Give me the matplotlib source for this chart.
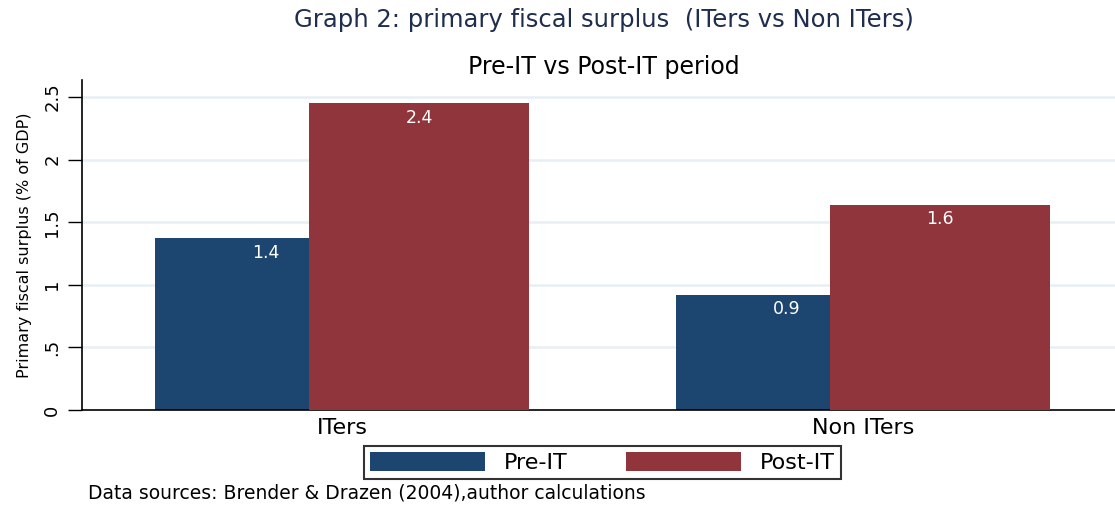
import matplotlib
matplotlib.use("Agg")
import matplotlib.pyplot as plt
import numpy as np

# Data
groups = ["ITers", "Non ITers"]
series_names = ["Pre-IT", "Post-IT"]
pre_it = [1.37, 0.92]
post_it = [2.45, 1.64]
pre_labels = ["1.4", "0.9"]
post_labels = ["2.4", "1.6"]
yticks = [0, 0.5, 1, 1.5, 2, 2.5]
ytick_labels = ["0", ".5", "1", "1.5", "2", "2.5"]

title = "Graph 2: primary fiscal surplus  (ITers vs Non ITers)"
subtitle = "Pre-IT vs Post-IT period"
ylabel = "Primary fiscal surplus (% of GDP)"
note = "Data sources: Brender & Drazen (2004),author calculations"

navy = "#1c466f"
maroon = "#90353b"
grid_c = "#e6eff2"
title_c = "#1f2d4e"

plt.rcParams["font.family"] = ["DejaVu Sans"]

W, H = 1115, 505
fig = plt.figure(figsize=(W / 100, H / 100), dpi=100)
fig.patch.set_facecolor("white")

left_px, right_px, top_px, bottom_px = 82, 1115, 80, 410
ax = fig.add_axes([left_px / W, (H - bottom_px) / H,
                   (right_px - left_px) / W, (bottom_px - top_px) / H])

x = np.arange(len(groups))
bw = 0.424
off = 0.147
b1 = ax.bar(x - off, pre_it, width=bw, color=navy, zorder=2, label=series_names[0])
b2 = ax.bar(x + off, post_it, width=bw, color=maroon, zorder=3, label=series_names[1])

for rect, lab in zip(b1, pre_labels):
    ax.annotate(lab, (rect.get_x() + rect.get_width() / 2, rect.get_height()),
                xytext=(0, -10.5), textcoords="offset points",
                ha="center", va="center", color="white", fontsize=12.5, zorder=4)
for rect, lab in zip(b2, post_labels):
    ax.annotate(lab, (rect.get_x() + rect.get_width() / 2, rect.get_height()),
                xytext=(0, -10.5), textcoords="offset points",
                ha="center", va="center", color="white", fontsize=12.5, zorder=4)

ax.set_xlim(-0.5, 1.483)
ax.set_ylim(0, (bottom_px - top_px) / 125.2)
ax.set_yticks(yticks)
ax.set_yticklabels(ytick_labels, rotation=90, va="center", fontsize=13)
ax.set_xticks(x)
ax.set_xticklabels(groups, fontsize=16)
ax.tick_params(axis="x", length=0, pad=6)
ax.tick_params(axis="y", length=10, width=1, pad=5, direction="out")

for yv in yticks[1:]:
    ax.axhline(yv, color=grid_c, linewidth=1.8, zorder=1)

for s in ["top", "right"]:
    ax.spines[s].set_visible(False)
ax.spines["left"].set_linewidth(1.2)
ax.spines["bottom"].set_linewidth(1.2)

ax.set_ylabel(ylabel, fontsize=11.5, labelpad=8)

fig.text(604 / W, 1 - 20 / H, title, ha="center", va="center", fontsize=17.5, color=title_c)
fig.text(604 / W, 1 - 67 / H, subtitle, ha="center", va="center", fontsize=17, color="black")
fig.text(88 / W, 1 - 493 / H, note, ha="left", va="center", fontsize=13.5, color="black")

leg = fig.legend(handles=[b1, b2], labels=series_names, ncol=2,
                 loc="center", bbox_to_anchor=(602.5 / W, 1 - 462.5 / H),
                 fontsize=16, frameon=True, fancybox=False, edgecolor="black",
                 handlelength=5.2, handleheight=0.95, handletextpad=0.85,
                 columnspacing=2.6, borderpad=0.28, borderaxespad=0)
leg.get_frame().set_linewidth(1.5)

fig.savefig("out.png", dpi=100, facecolor="white")
